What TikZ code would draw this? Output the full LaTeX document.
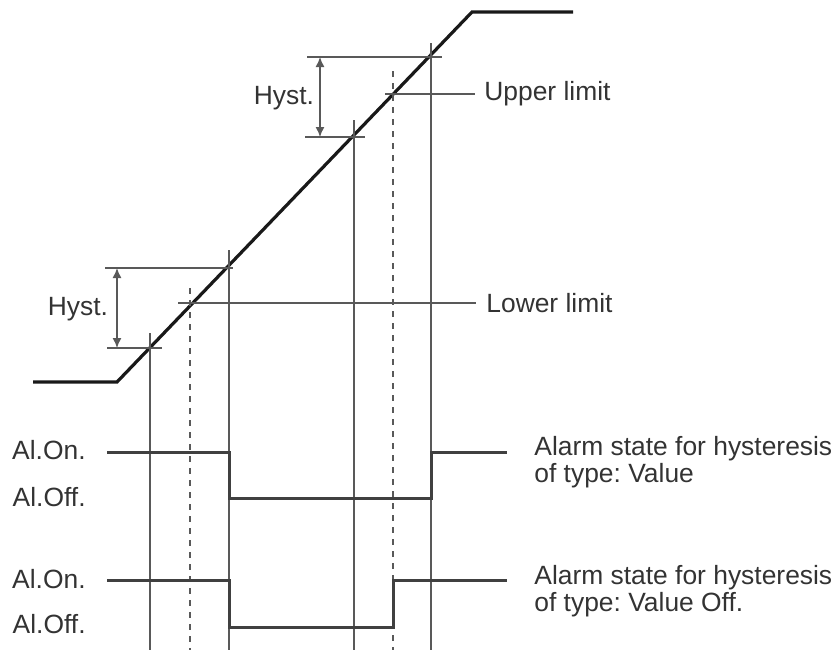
\documentclass[tikz,border=0pt]{standalone}
\usepackage{fontspec}
\setmainfont{Liberation Sans}
\usepackage{tikz}
\usetikzlibrary{arrows.meta}
\frenchspacing

\begin{document}
\begin{tikzpicture}[x=0.5pt, y=-0.5pt,
        >={Latex[length=5pt, width=4.5pt]},   %Pfeilspitzen
        hilfslinie/.style={color=black!65, line width=0.7pt},
        signal/.style={color=black!75, line width=1.5pt},
        beschr/.style={color=black!80, inner sep=0pt, font=\fontsize{13.2}{11.5}\selectfont}]
        \useasboundingbox (0,0) rectangle (837,650);
        % Rampe
        \draw[line width=1.6pt, color=black!90] (33,382) -- (117,382) -- (472,12) -- (573,12);
        % senkrechte Linien
        \foreach \x/\y in {150/333, 229/250, 354/120, 431/43} \draw[hilfslinie] (\x,\y) -- (\x,650);
        \foreach \x/\y in {190/288, 393/71} \draw[hilfslinie, dashed] (\x,\y) -- (\x,650);
        % Grenzwerte
        \node[beschr, anchor=west] (oben) at (484,94) {Upper limit};
        \node[beschr, anchor=west] (unten) at (486,303) {Lower limit};
        \draw[hilfslinie, shorten >=4.5pt] (385,94) -- (oben.west);
        \draw[hilfslinie, shorten >=5pt] (178,303) -- (unten.west);
        % Hysterese oben
        \coordinate (ho1) at (320,57);
        \coordinate (ho2) at (320,137);
        \draw[hilfslinie] (307,57) -- (442,57);
        \draw[hilfslinie] (305,137) -- (365,137);
        \draw[<->, hilfslinie] (ho1) -- (ho2);
        \node[beschr] (hysto) at (284,98) {Hyst.};
        % Hysterese unten
        \coordinate (hu1) at (117,268);
        \coordinate (hu2) at (117,348);
        \draw[hilfslinie] (105,268) -- (233,268);
        \draw[hilfslinie] (107,348) -- (162,348);
        \draw[<->, hilfslinie] (hu1) -- (hu2);
        \node[beschr] (hystu) at (78,309) {Hyst.};
        % Alarmzustand Value
        \draw[signal] (107,452) -- (229,452) -- (229,498) -- (431,498) -- (431,452) -- (507,452);
        \node[beschr, anchor=east] (on1) at (86,450) {Al.On.};
        \node[beschr, anchor=east] (off1) at (86,497) {Al.Off.};
        \node[beschr, anchor=west, align=left] (typ1) at (534,462) {Alarm state for hysteresis\\of type: Value};
        % Alarmzustand Value Off
        \draw[signal] (107,580) -- (229,580) -- (229,627) -- (393,627) -- (393,580) -- (507,580);
        \node[beschr, anchor=east] (on2) at (86,579) {Al.On.};
        \node[beschr, anchor=east] (off2) at (86,624) {Al.Off.};
        \node[beschr, anchor=west, align=left] (typ2) at (534,591) {Alarm state for hysteresis\\of type: Value Off.};
    \end{tikzpicture}
\end{document}
